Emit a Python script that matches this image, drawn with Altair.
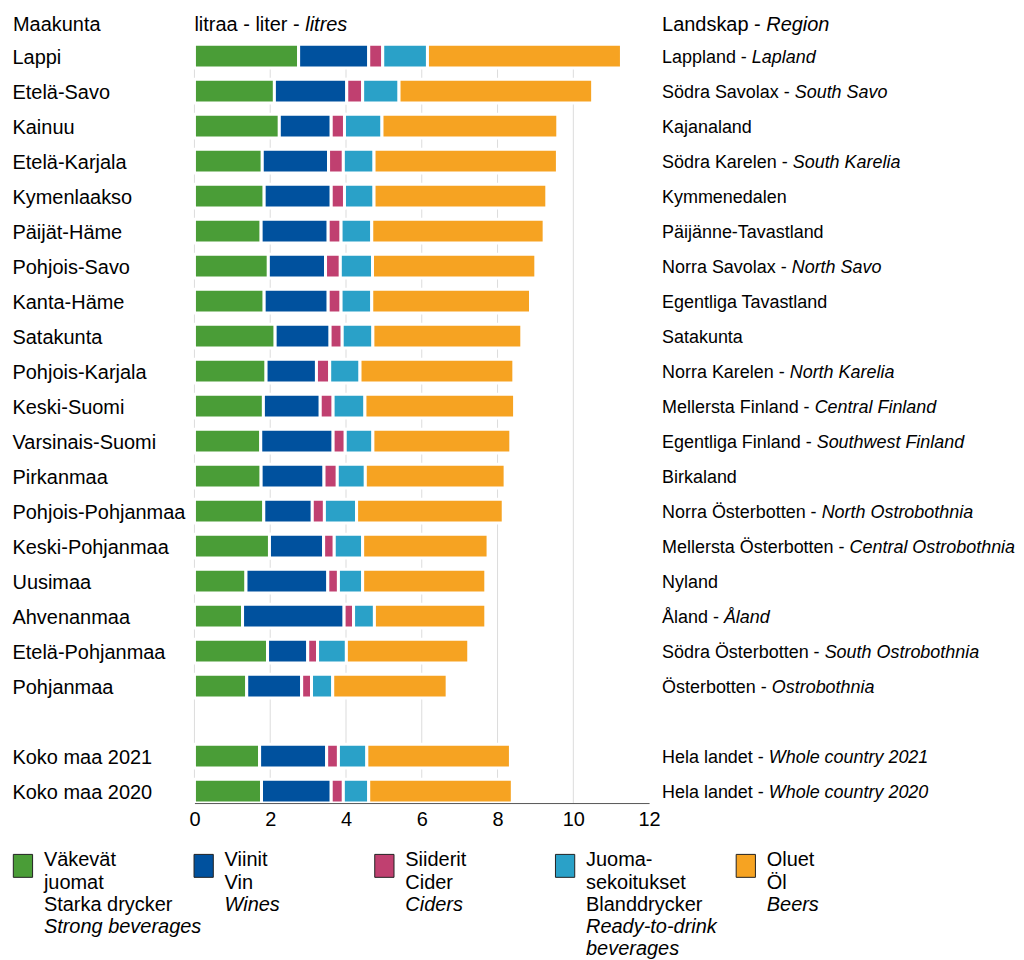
import altair as alt
import pandas as pd

FONT = "Liberation Sans"

# ---------------- data ----------------
regions_fi = ["Lappi", "Etelä-Savo", "Kainuu", "Etelä-Karjala", "Kymenlaakso", "Päijät-Häme",
              "Pohjois-Savo", "Kanta-Häme", "Satakunta", "Pohjois-Karjala", "Keski-Suomi",
              "Varsinais-Suomi", "Pirkanmaa", "Pohjois-Pohjanmaa", "Keski-Pohjanmaa", "Uusimaa",
              "Ahvenanmaa", "Etelä-Pohjanmaa", "Pohjanmaa", "Koko maa 2021", "Koko maa 2020"]
regions_sv = ["Lappland", "Södra Savolax", "Kajanaland", "Södra Karelen", "Kymmenedalen",
              "Päijänne-Tavastland", "Norra Savolax", "Egentliga Tavastland", "Satakunta",
              "Norra Karelen", "Mellersta Finland", "Egentliga Finland", "Birkaland",
              "Norra Österbotten", "Mellersta Österbotten", "Nyland", "Åland", "Södra Österbotten",
              "Österbotten", "Hela landet", "Hela landet"]
regions_en = ["Lapland", "South Savo", "", "South Karelia", "", "", "North Savo", "", "",
              "North Karelia", "Central Finland", "Southwest Finland", "", "North Ostrobothnia",
              "Central Ostrobothnia", "", "Åland", "South Ostrobothnia", "Ostrobothnia",
              "Whole country 2021", "Whole country 2020"]

strong = [2.75, 2.11, 2.24, 1.79, 1.84, 1.76, 1.95, 1.84, 2.13, 1.89, 1.82, 1.75, 1.76, 1.83, 1.98, 1.36, 1.27, 1.93, 1.38, 1.72, 1.77]
wines  = [1.85, 1.91, 1.37, 1.75, 1.77, 1.77, 1.51, 1.69, 1.45, 1.33, 1.50, 1.91, 1.66, 1.28, 1.43, 2.16, 2.68, 1.06, 1.45, 1.77, 1.84]
ciders = [0.37, 0.42, 0.35, 0.39, 0.35, 0.34, 0.39, 0.34, 0.32, 0.35, 0.34, 0.32, 0.35, 0.32, 0.28, 0.28, 0.25, 0.26, 0.26, 0.31, 0.32]
rtd    = [1.18, 0.96, 0.99, 0.81, 0.78, 0.81, 0.85, 0.81, 0.81, 0.80, 0.84, 0.73, 0.74, 0.85, 0.75, 0.64, 0.55, 0.76, 0.56, 0.75, 0.67]
beers  = [5.12, 5.11, 4.64, 4.84, 4.56, 4.55, 4.31, 4.19, 3.93, 4.06, 3.95, 3.64, 3.69, 3.87, 3.31, 3.25, 2.94, 3.23, 3.02, 3.79, 3.79]

categories = ["Väkevät juomat", "Viinit", "Siiderit", "Juomasekoitukset", "Oluet"]
colors = ["#4a9d37", "#00519e", "#c04070", "#2aa1c8", "#f6a322"]

legend_plain = [["Väkevät", "juomat", "Starka drycker"], ["Viinit", "Vin"], ["Siiderit", "Cider"],
                ["Juoma-", "sekoitukset", "Blanddrycker"], ["Oluet", "Öl"]]
legend_italic = [["Strong beverages"], ["Wines"], ["Ciders"], ["Ready-to-drink", "beverages"], ["Beers"]]

x_ticks = [0, 2, 4, 6, 8, 10, 12]
grid_values = [0, 2, 4, 6, 8, 10]

# ---------------- layout helpers ----------------
BLANK = " "
row_order = regions_fi[:19] + [BLANK] + regions_fi[19:]

# Arial / Liberation Sans advance widths (per 1000 em) for label placement
_W = {" ": 278, "-": 333}
for ch in "abdeghnopqu": _W[ch] = 556
for ch in "cksvxyz": _W[ch] = 500
for ch in "fijlt": _W[ch] = 278
_W.update({"i": 222, "j": 222, "l": 222, "m": 833, "r": 333, "w": 722,
           "ä": 556, "ö": 556, "å": 556})
_W.update({"A": 667, "B": 667, "C": 722, "D": 722, "E": 667, "F": 611, "G": 778, "H": 722,
           "I": 278, "J": 500, "K": 667, "L": 556, "M": 833, "N": 722, "O": 778, "P": 667,
           "Q": 778, "R": 722, "S": 667, "T": 611, "U": 722, "V": 667, "W": 944, "X": 667,
           "Y": 667, "Z": 611, "Ö": 778, "Å": 667, "Ä": 667})
for ch in "0123456789": _W[ch] = 556


def text_width(s, size):
    return sum(_W.get(ch, 556) for ch in s) * size / 1000.0


LEFT_X = -183
RIGHT_X = 469
LEG_Y = 824.5

# ---------------- tables ----------------
series = [strong, wines, ciders, rtd, beers]
rows = []
for i, r in enumerate(regions_fi):
    for k, cat in enumerate(categories):
        rows.append({"row": r, "cat": cat, "ord": k, "value": series[k][i]})
df = pd.DataFrame(rows)

rlab = []
for fi, sv, en in zip(regions_fi, regions_sv, regions_en):
    if en:
        rlab.append({"row": fi, "txt": sv + " -", "px": RIGHT_X, "it": False})
        rlab.append({"row": fi, "txt": en, "px": RIGHT_X + text_width(sv + " - ", 18), "it": True})
    else:
        rlab.append({"row": fi, "txt": sv, "px": RIGHT_X, "it": False})
rdf = pd.DataFrame(rlab)

head = [
    {"txt": "Maakunta", "px": LEFT_X + 1, "it": False},
    {"txt": "litraa - liter -", "px": 0, "it": False},
    {"txt": "litres", "px": text_width("litraa - liter - ", 20), "it": True},
    {"txt": "Landskap -", "px": RIGHT_X, "it": False},
    {"txt": "Region", "px": RIGHT_X + text_width("Landskap - ", 20), "it": True},
]
hdf = pd.DataFrame(head)

lrows = []
for cat, pl, it in zip(categories, legend_plain, legend_italic):
    n = 0
    for t in pl:
        lrows.append({"cat": cat, "line": n, "txt": t, "it": False}); n += 1
    for t in it:
        lrows.append({"cat": cat, "line": n, "txt": t, "it": True}); n += 1
ldf = pd.DataFrame(lrows)
sqdf = pd.DataFrame({"cat": categories})
gdf = pd.DataFrame({"g": grid_values})

color_scale = alt.Scale(domain=categories, range=colors)
x_scale = alt.Scale(domain=[0, 12], nice=False)

# ---------------- main plot ----------------
grid = alt.Chart(gdf).mark_rule(color="#dcdcdc", strokeWidth=1).encode(
    x=alt.X("g:Q", scale=x_scale, title=None))

bars = alt.Chart(df).mark_bar(stroke="white", strokeWidth=3).encode(
    x=alt.X("value:Q", stack="zero", title=None, scale=x_scale,
            axis=alt.Axis(orient="bottom", values=x_ticks, grid=False,
                          domainColor="#555555", ticks=False, tickSize=0, labelFontSize=20,
                          labelPadding=7, labelColor="black", labelFont=FONT,
                          labelFlush=False, zindex=2)),
    y=alt.Y("row:N", title=None,
            scale=alt.Scale(domain=row_order, paddingInner=0.32, paddingOuter=0),
            axis=alt.Axis(orient="left", domain=False, ticks=False, tickSize=0,
                          labelAlign="left", labelPadding=-LEFT_X, labelFontSize=20,
                          labelFont=FONT, labelColor="black", labelOffset=2, labelLimit=0)),
    color=alt.Color("cat:N", scale=color_scale, legend=None),
    order=alt.Order("ord:Q"),
)

right_plain = alt.Chart(rdf).transform_filter("!datum.it").mark_text(
    align="left", baseline="middle", dy=2, fontSize=18, font=FONT, color="black").encode(
    x=alt.X("px:Q", scale=None, axis=None),
    y=alt.Y("row:N", title=None),
    text="txt:N")
right_ital = alt.Chart(rdf).transform_filter("datum.it").mark_text(
    align="left", baseline="middle", dy=2, fontSize=18, font=FONT, fontStyle="italic",
    color="black").encode(
    x=alt.X("px:Q", scale=None, axis=None),
    y=alt.Y("row:N", title=None),
    text="txt:N")

head_plain = alt.Chart(hdf).transform_filter("!datum.it").mark_text(
    align="left", baseline="alphabetic", fontSize=20, font=FONT, color="black").encode(
    x=alt.X("px:Q", scale=None, axis=None), y=alt.value(-13), text="txt:N")
head_ital = alt.Chart(hdf).transform_filter("datum.it").mark_text(
    align="left", baseline="alphabetic", fontSize=20, font=FONT, fontStyle="italic",
    color="black").encode(
    x=alt.X("px:Q", scale=None, axis=None), y=alt.value(-13), text="txt:N")

main = alt.layer(grid, bars, right_plain, right_ital, head_plain, head_ital)

# ---------------- legend ----------------
leg_x = alt.X("cat:N", scale=alt.Scale(type="point", domain=categories, range=[-172, 553],
                                       padding=0), axis=None)
leg_sq = alt.Chart(sqdf).mark_point(
    shape="M-0.84,-1L0.84,-1L0.84,1L-0.84,1Z", filled=True, size=529, opacity=1,
    stroke="#222222", strokeWidth=1).encode(
    x=leg_x, y=alt.value(LEG_Y - 0.5), color=alt.Color("cat:N", scale=color_scale, legend=None))
leg_y = alt.Y("line:Q", scale=alt.Scale(domain=[0, 1], range=[LEG_Y, LEG_Y + 22.3]), axis=None)
leg_plain = alt.Chart(ldf).transform_filter("!datum.it").mark_text(
    align="left", baseline="alphabetic", dx=21, fontSize=20, font=FONT, color="black").encode(
    x=leg_x, y=leg_y, text="txt:N")
leg_ital = alt.Chart(ldf).transform_filter("datum.it").mark_text(
    align="left", baseline="alphabetic", dx=21, fontSize=20, font=FONT, fontStyle="italic",
    color="black").encode(
    x=leg_x, y=leg_y, text="txt:N")

legend = alt.layer(leg_sq, leg_plain, leg_ital)

chart = alt.layer(main, legend).resolve_scale(x="independent", y="independent").properties(
    width=456, height=761, padding={"left": 3, "top": 6, "right": 0, "bottom": 4}
).configure_view(strokeWidth=0).configure_text(font=FONT).configure_axisX(
    zindex=2, domainColor="#555555")

chart.save("out.html", embed_options={"renderer": "svg", "actions": False})
